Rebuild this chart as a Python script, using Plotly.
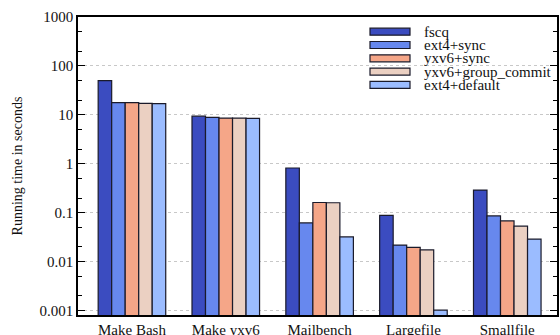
import plotly.graph_objects as go

categories = ["Make Bash", "Make yxv6", "Mailbench", "Largefile", "Smallfile"]
series_names = ["fscq", "ext4+sync", "yxv6+sync", "yxv6+group_commit", "ext4+default"]
fscq = [50, 9.4, 0.82, 0.088, 0.29]
ext4_sync = [17.8, 8.9, 0.062, 0.0218, 0.086]
yxv6_sync = [17.8, 8.6, 0.162, 0.0195, 0.068]
yxv6_group_commit = [17.2, 8.6, 0.16, 0.0174, 0.053]
ext4_default = [17.0, 8.5, 0.032, 0.00102, 0.029]
series_values = [fscq, ext4_sync, yxv6_sync, yxv6_group_commit, ext4_default]
colors = ["#3b4cc0", "#6788ee", "#f5a688", "#ebd0c2", "#9bbcff"]
y_tick_vals = [0.001, 0.01, 0.1, 1, 10, 100, 1000]
y_tick_text = ["0.001", "0.01", "0.1", "1", "10", "100", "1000"]

FONT = "Liberation Serif"

fig = go.Figure()
for name, vals, col in zip(series_names, series_values, colors):
    fig.add_trace(go.Bar(
        x=list(range(len(categories))), y=vals, name=name,
        marker=dict(color=col, line=dict(color="#1a1a2a", width=1.2)),
        showlegend=False, hoverinfo="skip",
    ))

# minor ticks at 2 and 5 for each decade
minor_vals = []
for e in range(-3, 3):
    for m in (2, 5):
        minor_vals.append(m * 10 ** e)

fig.update_layout(
    width=560, height=335,
    margin=dict(l=78, r=3, t=17, b=20),
    plot_bgcolor="white", paper_bgcolor="white",
    barmode="group", bargap=0.28, bargroupgap=0,
    font=dict(family=FONT, size=15, color="#111"),
    xaxis=dict(
        tickmode="array", tickvals=list(range(len(categories))), ticktext=categories,
        range=[-0.575, 4.53], showline=True, linecolor="black", linewidth=1.5,
        mirror=True, ticks="", showgrid=False, zeroline=False,
        tickfont=dict(family=FONT, size=15), automargin=False,
    ),
    yaxis=dict(
        type="log", range=[-3.09, 3],
        tickmode="array", tickvals=y_tick_vals, ticktext=y_tick_text,
        ticks="inside", ticklen=7, tickcolor="black", tickwidth=1,
        showline=True, linecolor="black", linewidth=1.5, mirror="ticks",
        showgrid=True, gridcolor="#c8c8c8", griddash="dot", gridwidth=1,
        zeroline=False, automargin=False,
        minor=dict(tickvals=minor_vals, ticks="inside", ticklen=4, tickcolor="black", showgrid=False),
        title=dict(text="Running time in seconds", font=dict(family=FONT, size=14), standoff=14),
        tickfont=dict(family=FONT, size=15),
    ),
)

# custom legend with wide rectangular swatches
shapes = []
annotations = []
row_y0 = 31.7
row_step = 13.3
for i, (name, col) in enumerate(zip(series_names, colors)):
    yc = row_y0 + i * row_step
    shapes.append(dict(
        type="rect", xref="paper", yref="paper",
        x0=(370 - 78) / 479, x1=(410 - 78) / 479,
        y0=1 - (yc + 3.5 - 17) / 298, y1=1 - (yc - 3.5 - 17) / 298,
        fillcolor=col, line=dict(color="#1a1a2a", width=1.2),
    ))
    annotations.append(dict(
        xref="paper", yref="paper", x=(422 - 78) / 479, y=1 - (yc - 17) / 298,
        text=name, showarrow=False, xanchor="left", yanchor="middle",
        font=dict(family=FONT, size=15, color="#111"),
    ))
fig.update_layout(shapes=shapes, annotations=annotations)

fig.write_html(
    "out.html",
    config={"displayModeBar": False},
    post_script="document.body.style.margin='0';document.body.style.padding='0';",
)
